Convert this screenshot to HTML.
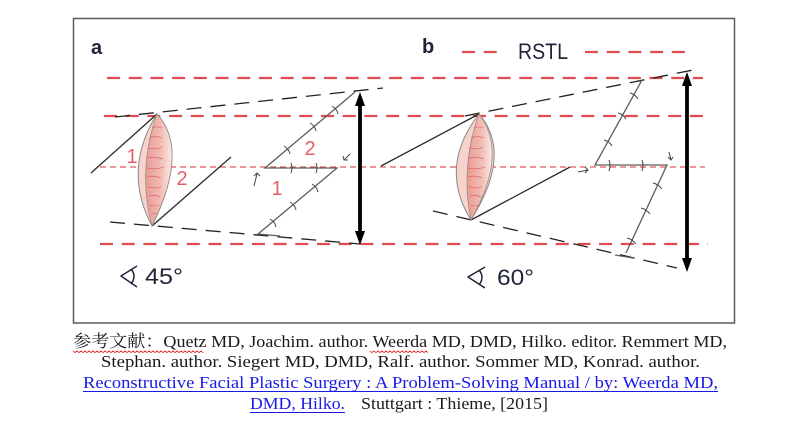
<!DOCTYPE html>
<html>
<head>
<meta charset="utf-8">
<style>
  html, body { margin:0; padding:0; background:#ffffff; }
  body { width:800px; height:432px; overflow:hidden; }
  svg { display:block; }
</style>
</head>
<body>
<svg width="800" height="432" viewBox="0 0 800 432" xmlns="http://www.w3.org/2000/svg">
  <defs>
    <linearGradient id="lg" x1="0" y1="0" x2="1" y2="0">
      <stop offset="0" stop-color="#e99a92"/>
      <stop offset="0.6" stop-color="#f2bfb7"/>
      <stop offset="1" stop-color="#fbe9e5"/>
    </linearGradient>
  </defs>
  <rect x="0" y="0" width="800" height="432" fill="#ffffff"/>

  <!-- frame -->
  <rect x="73.5" y="18.5" width="661" height="304.5" fill="none" stroke="#5a5a5a" stroke-width="1.5"/>

  <!-- red RSTL lines -->
  <g stroke="#e04a52" stroke-width="2.3" fill="none" stroke-dasharray="13 8.7">
    <line x1="107" y1="78" x2="703" y2="78"/>
    <line x1="104" y1="116" x2="705" y2="116"/>
    <line x1="100" y1="244" x2="708" y2="244"/>
    <line x1="462" y1="52" x2="500" y2="52"/>
    <line x1="585" y1="52" x2="690" y2="52"/>
  </g>
  <line x1="100" y1="167" x2="705" y2="167" stroke="#e2585f" stroke-width="1.3" stroke-dasharray="6 4"/>

  <!-- labels -->
  <g font-family="'Liberation Sans', sans-serif" fill="#1f2438">
    <text x="91" y="54" font-size="20" font-weight="bold">a</text>
    <text x="422" y="53" font-size="20" font-weight="bold">b</text>
    <text x="518" y="59" font-size="22" textLength="50" lengthAdjust="spacingAndGlyphs">RSTL</text>
    <text x="145" y="284" font-size="22" textLength="38" lengthAdjust="spacingAndGlyphs">45°</text>
    <text x="497" y="285" font-size="22" textLength="37" lengthAdjust="spacingAndGlyphs">60°</text>
  </g>
  <!-- angle symbols -->
  <g stroke="#1f2438" stroke-width="1.5" fill="none" stroke-linejoin="round">
    <path d="M137,266 L121,276 L137,287"/>
    <path d="M131,269 Q137,276 131,284"/>
    <path d="M485,267 L468,277 L485,288"/>
    <path d="M479,270 Q485,277 479,285"/>
  </g>

  <!-- ===== Panel a ===== -->
  <g stroke="#222" stroke-width="1.3" fill="none" stroke-dasharray="15 9">
    <line x1="115" y1="117" x2="383" y2="88"/>
    <line x1="110" y1="222" x2="360" y2="244"/>
  </g>
  <g stroke="#2a2a2a" stroke-width="1.3" fill="none">
    <line x1="91" y1="173" x2="157" y2="114"/>
    <line x1="152" y1="226" x2="231" y2="157"/>
  </g>
  <!-- lens a -->
  <path d="M157,114 Q122,170 152,226 Q189.5,150 157,114 Z" fill="#f6d4cc" stroke="#8a8a8a" stroke-width="1"/>
  <path d="M157,114 Q137,170 152,226 Q189.5,150 157,114 Z" fill="url(#lg)" stroke="#9a8a88" stroke-width="0.8"/>
  <g stroke="#d85a62" stroke-width="0.8" fill="none" opacity="0.75">
    <path d="M152,128 q5,-2 10,0"/>
    <path d="M149,138 q6,-3 13,0"/>
    <path d="M148,148 q8,2 14,-1"/>
    <path d="M147,158 q7,-2 16,1"/>
    <path d="M147,168 q9,2 17,-1"/>
    <path d="M147,177 q6,-2 14,1"/>
    <path d="M148,187 q7,2 13,0"/>
    <path d="M149,196 q5,-2 11,1"/>
    <path d="M150,205 q4,2 9,0"/>
    <path d="M151,214 q3,-1 6,0"/>
  </g>
  <g font-family="'Liberation Sans', sans-serif" fill="#e35f68" font-size="20" text-anchor="middle">
    <text x="132" y="163">1</text>
    <text x="182" y="185">2</text>
    <text x="310" y="155">2</text>
    <text x="277" y="195">1</text>
  </g>
  <!-- flap a -->
  <g stroke="#5e5e5e" stroke-width="1.3" fill="none">
    <polyline points="355,92 265,168 337,168 258,234 280,236"/>
  </g>
  <g stroke="#444" stroke-width="1" fill="none">
    <path d="M284,146 Q289,149 290,154"/>
    <path d="M310,123 Q315,126 316,131"/>
    <path d="M332,106 Q337,109 338,114"/>
    <path d="M291,163 Q293,168 291,173"/>
    <path d="M316,163 Q318,168 316,173"/>
    <path d="M312,184 Q317,187 318,192"/>
    <path d="M290,202 Q295,205 296,210"/>
    <path d="M270,219 Q275,222 276,227"/>
    <path d="M254,186 L257,174 M254,176 L257,173 L260,176"/>
    <path d="M350,154 L344,160 M343,156 L344,160 L348,160"/>
  </g>
  <!-- double arrow a -->
  <line x1="360" y1="102" x2="360" y2="234" stroke="#000" stroke-width="3.8"/>
  <polygon points="360,92 355,106 365,106" fill="#000"/>
  <polygon points="360,245 355,231 365,231" fill="#000"/>

  <!-- ===== Panel b ===== -->
  <g stroke="#222" stroke-width="1.3" fill="none" stroke-dasharray="15 9">
    <line x1="465" y1="116" x2="698" y2="69"/>
    <line x1="433" y1="211" x2="677" y2="268"/>
  </g>
  <g stroke="#2a2a2a" stroke-width="1.3" fill="none">
    <line x1="381" y1="166" x2="479" y2="114"/>
    <line x1="471" y1="220" x2="570" y2="167"/>
  </g>
  <!-- lens b -->
  <path d="M479,114 Q438,167 471,220 Q513,153 479,114 Z" fill="#f6d4cc" stroke="#8a8a8a" stroke-width="1"/>
  <path d="M479,114 Q460,167 471,220 Q509,153 479,114 Z" fill="url(#lg)" stroke="#9a8a88" stroke-width="0.8"/>
  <g stroke="#d85a62" stroke-width="0.8" fill="none" opacity="0.75">
    <path d="M474,128 q5,-2 10,0"/>
    <path d="M471,138 q6,-3 13,0"/>
    <path d="M469,148 q8,2 14,-1"/>
    <path d="M468,158 q7,-2 16,1"/>
    <path d="M468,168 q9,2 17,-1"/>
    <path d="M468,177 q6,-2 14,1"/>
    <path d="M469,187 q7,2 13,0"/>
    <path d="M470,196 q5,-2 11,1"/>
    <path d="M471,205 q4,2 8,0"/>
  </g>
  <!-- flap b -->
  <g stroke="#5e5e5e" stroke-width="1.3" fill="none">
    <polyline points="642,80 595,165 667,165 626,253"/>
    <line x1="615" y1="255" x2="633" y2="258"/>
  </g>
  <g stroke="#444" stroke-width="1" fill="none">
    <path d="M630,93 Q635,94 638,99"/>
    <path d="M618,113 Q623,114 626,119"/>
    <path d="M604,140 Q609,141 612,146"/>
    <path d="M609,160 Q611,165 609,171"/>
    <path d="M642,160 Q644,165 642,171"/>
    <path d="M653,183 Q658,184 662,189"/>
    <path d="M641,208 Q646,209 650,214"/>
    <path d="M627,238 Q632,239 636,244"/>
    <path d="M578,172 L588,170 M585,167 L588,170 L585,173"/>
    <path d="M669,152 L671,160 M668,157 L671,160 L673,157"/>
  </g>
  <!-- double arrow b -->
  <line x1="687" y1="82" x2="687" y2="262" stroke="#000" stroke-width="3.8"/>
  <polygon points="687,72 682,86 692,86" fill="#000"/>
  <polygon points="687,272 682,258 692,258" fill="#000"/>

  <!-- ===== Caption ===== -->
  <g font-family="'Liberation Serif', 'Noto Serif CJK SC', serif" font-size="17" fill="#1a1a1a">
    <text x="73" y="347" textLength="654" lengthAdjust="spacingAndGlyphs">参考文献：Quetz MD, Joachim. author. Weerda MD, DMD, Hilko. editor. Remmert MD,</text>
    <text x="101" y="367" textLength="599" lengthAdjust="spacingAndGlyphs">Stephan. author. Siegert MD, DMD, Ralf. author. Sommer MD, Konrad. author.</text>
    <text x="83" y="388" textLength="635" lengthAdjust="spacingAndGlyphs" fill="#1a1ae6">Reconstructive Facial Plastic Surgery : A Problem-Solving Manual / by: Weerda MD,</text>
    <text x="250" y="409" textLength="95" lengthAdjust="spacingAndGlyphs" fill="#1a1ae6">DMD, Hilko.</text>
    <text x="361" y="409" textLength="187" lengthAdjust="spacingAndGlyphs">Stuttgart : Thieme, [2015]</text>
  </g>
  <g stroke="#1a1ae6" stroke-width="1">
    <line x1="83" y1="391.5" x2="718" y2="391.5"/>
    <line x1="250" y1="412.5" x2="345" y2="412.5"/>
  </g>
  <g stroke="#e03030" stroke-width="0.9" fill="none">
    <path d="M73,351 l2,1.6 l2,-1.6 l2,1.6 l2,-1.6 l2,1.6 l2,-1.6 l2,1.6 l2,-1.6 l2,1.6 l2,-1.6 l2,1.6 l2,-1.6 l2,1.6 l2,-1.6 l2,1.6 l2,-1.6 l2,1.6 l2,-1.6 l2,1.6 l2,-1.6 l2,1.6 l2,-1.6 l2,1.6 l2,-1.6 l2,1.6 l2,-1.6 l2,1.6 l2,-1.6 l2,1.6 l2,-1.6 l2,1.6 l2,-1.6 l2,1.6 l2,-1.6 l2,1.6 l2,-1.6 l2,1.6 l2,-1.6 l2,1.6 l2,-1.6 l2,1.6 l2,-1.6 l2,1.6 l2,-1.6 l2,1.6 l2,-1.6 l2,1.6 l2,-1.6 l2,1.6 l2,-1.6 l2,1.6 l2,-1.6 l2,1.6 l2,-1.6 l2,1.6 l2,-1.6 l2,1.6 l2,-1.6 l2,1.6 l2,-1.6 l2,1.6 l2,-1.6 l2,1.6 l2,-1.6 l2,1.6"/>
    <path d="M370,351 l2,1.6 l2,-1.6 l2,1.6 l2,-1.6 l2,1.6 l2,-1.6 l2,1.6 l2,-1.6 l2,1.6 l2,-1.6 l2,1.6 l2,-1.6 l2,1.6 l2,-1.6 l2,1.6 l2,-1.6 l2,1.6 l2,-1.6 l2,1.6 l2,-1.6 l2,1.6 l2,-1.6 l2,1.6 l2,-1.6 l2,1.6 l2,-1.6 l2,1.6 l2,-1.6 l2,1.6"/>
  </g>
</svg>
</body>
</html>
